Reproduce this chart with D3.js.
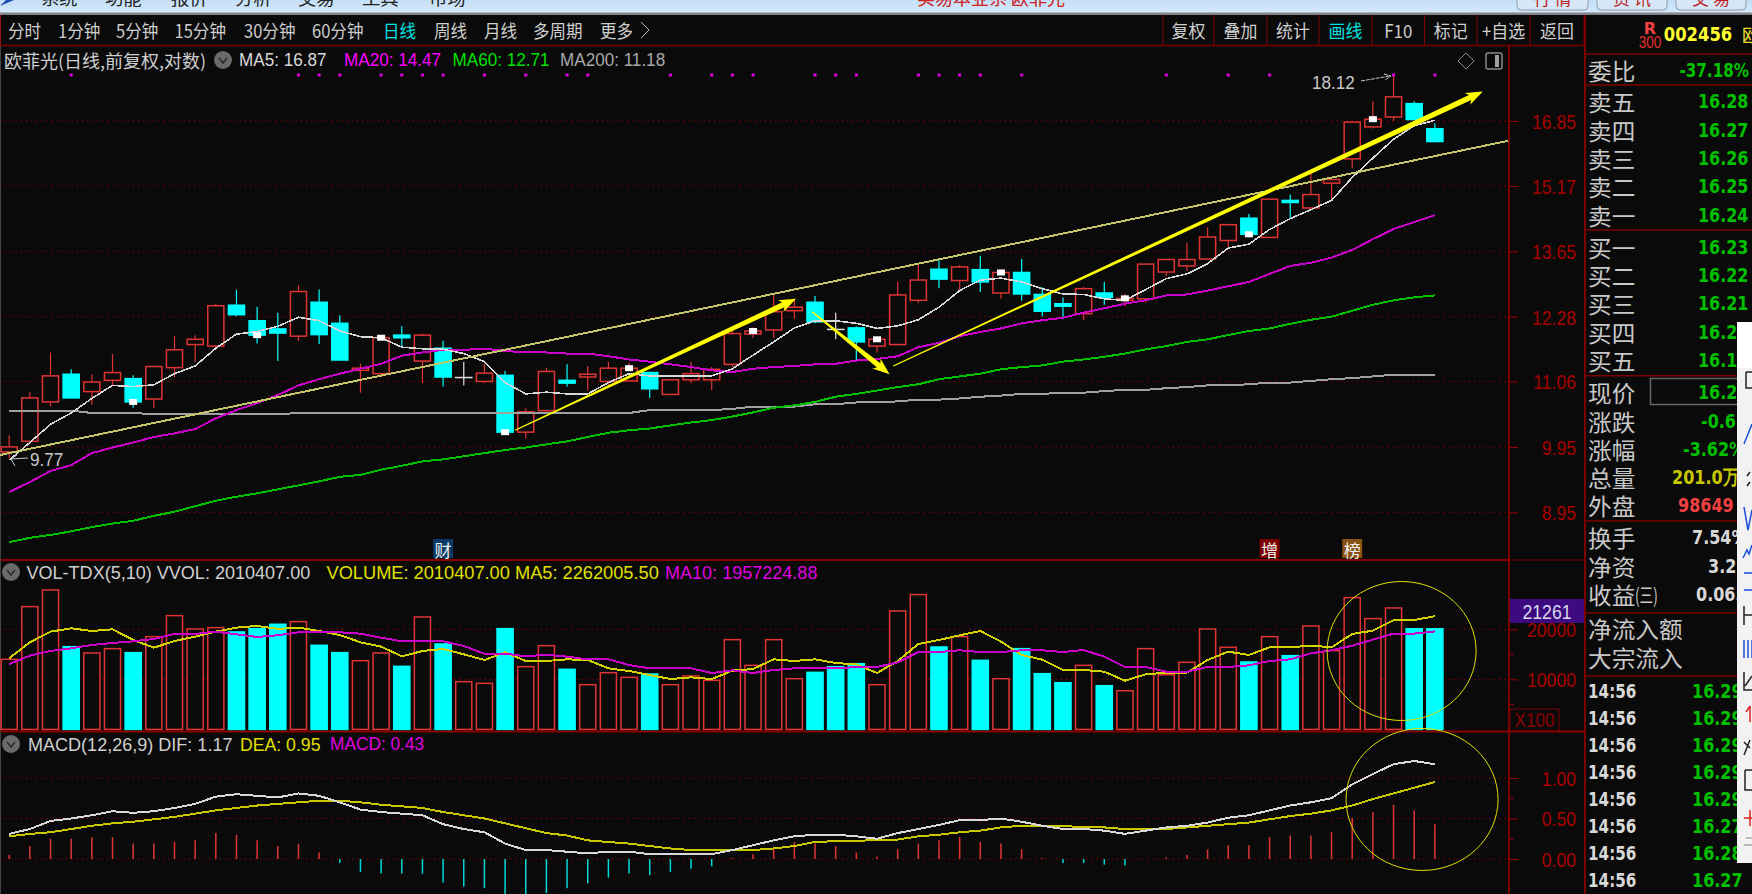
<!DOCTYPE html>
<html>
<head>
<meta charset="utf-8">
<style>
  html, body { margin: 0; padding: 0; background: #0a0a0a; overflow: hidden; }
  svg { display: block; }
</style>
<script src="https://cdn.jsdelivr.net/npm/d3@7"></script>
</head>
<body>
<svg id="chart" width="1752" height="894"></svg>
<script>
// candles
const opens = [9.87,10.04,10.70,11.19,10.88,11.08,11.11,10.75,11.31,11.74,
  11.71,12.51,12.20,12.04,11.90,12.57,12.15,11.26,11.20,11.92,
  11.43,11.67,11.13,11.06,11.17,10.19,10.55,11.08,11.14,11.06,
  11.07,11.22,10.83,11.09,11.09,11.37,11.94,12.02,12.40,12.57,
  12.03,12.06,11.71,11.74,12.61,13.26,13.02,13.25,12.76,13.19,
  12.73,12.54,12.34,12.76,12.61,12.64,13.20,13.33,13.48,13.89,
  14.40,13.96,14.82,14.64,15.24,15.85,16.69,16.96,17.33,16.64];
const closes = [9.95,10.77,11.16,10.77,11.05,11.22,10.70,11.33,11.64,11.84,
  12.50,12.32,11.92,11.96,12.79,11.93,11.45,11.30,11.87,11.87,
  11.92,11.14,11.13,11.21,10.19,10.53,11.24,11.03,11.19,11.30,
  11.30,10.93,11.09,11.20,11.28,11.95,12.00,12.38,12.47,12.18,
  12.03,11.79,11.84,12.72,13.03,13.05,13.31,12.99,13.19,12.74,
  12.39,12.49,12.85,12.67,12.65,13.37,13.47,13.47,13.97,14.25,
  14.03,14.85,14.77,14.96,15.33,16.82,16.90,17.52,16.89,16.30];
const highs = [10.14,10.87,11.59,11.28,11.19,11.56,11.17,11.33,11.90,11.92,
  12.54,12.83,12.48,12.36,12.92,12.83,12.31,11.38,11.92,12.09,
  11.95,11.81,11.42,11.38,11.25,10.59,11.31,11.37,11.34,11.42,
  11.40,11.24,11.09,11.42,11.32,12.01,12.07,12.74,12.64,12.70,
  12.36,12.09,11.89,12.99,13.35,13.46,13.35,13.55,13.26,13.48,
  12.88,12.67,12.88,12.99,12.74,13.37,13.47,13.84,14.19,14.25,
  14.50,14.85,14.96,15.51,15.34,16.83,17.40,18.12,17.40,16.79];
const lows = [9.77,9.99,10.62,10.77,10.65,10.99,10.60,10.60,11.13,11.42,
  11.64,12.29,11.76,11.43,11.81,11.75,11.45,10.86,11.17,11.70,
  11.03,10.97,10.99,11.03,10.17,10.09,10.53,10.97,10.90,10.99,
  11.07,10.77,10.83,11.03,10.91,11.32,11.87,11.86,12.24,12.15,
  11.84,11.43,11.59,11.73,12.55,12.86,12.78,12.78,12.64,12.60,
  12.29,12.23,12.21,12.52,12.49,12.56,13.11,13.22,13.48,13.74,
  13.96,13.96,14.41,14.60,14.85,15.61,16.65,16.85,16.89,16.30];

const ma5 = [9.74,10.02,10.32,10.51,10.76,10.99,10.97,11.00,11.20,11.34,
  11.67,11.94,11.99,12.09,12.27,12.20,12.00,11.89,11.87,11.69,
  11.66,11.65,11.57,11.42,11.04,10.84,10.87,10.84,10.84,11.04,
  11.20,11.16,11.16,11.16,11.16,11.29,11.54,11.79,12.06,12.20,
  12.20,12.15,12.05,12.10,12.22,12.47,12.81,13.03,13.07,12.99,
  12.85,12.74,12.73,12.64,12.61,12.83,13.06,13.16,13.38,13.72,
  13.81,14.14,14.39,14.60,14.82,15.38,15.87,16.36,16.72,16.87];
const ma20 = [9.25,9.40,9.57,9.66,9.85,9.94,10.02,10.11,10.17,10.24,
  10.42,10.56,10.68,10.82,10.99,11.10,11.20,11.29,11.38,11.53,
  11.59,11.64,11.64,11.66,11.62,11.59,11.59,11.57,11.57,11.52,
  11.46,11.42,11.37,11.32,11.26,11.23,11.29,11.32,11.34,11.37,
  11.38,11.44,11.47,11.52,11.69,11.77,11.90,11.98,12.05,12.15,
  12.21,12.26,12.36,12.45,12.54,12.61,12.71,12.73,12.81,12.90,
  12.99,13.16,13.33,13.40,13.51,13.68,13.92,14.15,14.31,14.47];
const ma60 = [8.53,8.59,8.63,8.68,8.74,8.79,8.83,8.90,8.96,9.04,
  9.12,9.18,9.23,9.29,9.35,9.41,9.48,9.51,9.59,9.65,
  9.72,9.75,9.80,9.85,9.90,9.94,9.99,10.04,10.11,10.18,
  10.22,10.25,10.30,10.35,10.39,10.45,10.52,10.60,10.64,10.70,
  10.79,10.84,10.90,10.96,11.01,11.10,11.15,11.20,11.28,11.32,
  11.35,11.42,11.46,11.51,11.57,11.65,11.71,11.79,11.84,11.92,
  12.00,12.05,12.14,12.22,12.28,12.40,12.52,12.61,12.67,12.71];
const ma200 = [10.55,10.55,10.55,10.55,10.51,10.51,10.51,10.49,10.49,10.49,
  10.49,10.49,10.49,10.49,10.51,10.51,10.51,10.51,10.51,10.51,
  10.51,10.51,10.51,10.51,10.51,10.51,10.51,10.51,10.51,10.51,
  10.51,10.56,10.56,10.56,10.56,10.58,10.62,10.62,10.62,10.66,
  10.66,10.69,10.69,10.71,10.74,10.74,10.76,10.79,10.81,10.84,
  10.84,10.86,10.86,10.89,10.91,10.91,10.94,10.96,10.99,10.99,
  11.01,11.04,11.04,11.07,11.10,11.12,11.15,11.18,11.18,11.18];

// volume pane (x100)
const volumes = [14000,24533,27867,16533,15267,16133,15333,18533,22733,20067,
  20333,19467,20133,21000,21533,16800,15333,13733,15267,12600,
  22467,17067,9533,9200,20133,12533,16733,12000,8933,11333,
  10400,11067,8933,10667,9800,17933,12800,17933,10133,11400,
  12533,13133,8933,23667,26933,16467,18533,13800,10133,16133,
  11133,9333,12800,8733,7733,16133,10933,13400,20067,16400,
  13467,18533,14733,20667,15733,26333,22133,24267,20104,20104];
const volMa5 = [14200,17400,19533,20200,19667,20000,17867,16333,17667,18533,
  19533,20333,20667,20067,20333,19667,18867,17400,16533,14600,
  15667,16067,15000,13867,15400,13667,13667,14000,13867,12200,
  11667,10867,10067,10400,10067,11733,12067,14000,13667,14000,
  13267,13000,11267,13667,17067,17867,18800,19667,17533,14867,
  13933,11867,11867,11533,9733,11000,11333,11333,13867,15533,
  14867,16400,16400,16733,16400,19067,19733,21800,21867,22620];
const volMa10 = [13067,14733,15667,16200,16867,17267,17600,18067,19067,19067,
  19533,19000,18467,18800,19400,19400,19400,19133,18333,17600,
  17600,17600,16667,15133,15133,14600,14933,14533,14000,14000,
  12867,12200,12200,12200,11267,11800,11267,11867,12200,12200,
  12200,12467,12467,13400,15467,15467,15800,15467,15467,15800,
  15800,15467,15867,14533,12467,12467,11533,11533,12467,12467,
  12800,13667,14000,15200,15800,16733,17933,19133,19133,19572];
const downDays = [3,6,11,12,13,15,16,19,21,24,27,31,39,40,41,45,47,49,50,51,53,60,62,68,69];

// MACD pane
const dif = [.31,.37,.47,.50,.54,.59,.57,.59,.63,.68,
  .77,.80,.78,.76,.81,.78,.70,.61,.58,.56,
  .54,.43,.37,.33,.19,.11,.11,.09,.07,.09,
  .09,.06,.06,.06,.06,.11,.17,.23,.28,.30,
  .30,.28,.25,.32,.37,.42,.48,.48,.50,.46,
  .41,.37,.37,.35,.31,.35,.39,.41,.45,.51,
  .54,.60,.66,.70,.75,.92,1.05,1.17,1.21,1.17];
const dea = [.28,.31,.33,.37,.41,.44,.46,.49,.52,.56,
  .60,.63,.66,.68,.70,.72,.72,.70,.67,.65,
  .63,.58,.54,.50,.44,.38,.32,.29,.23,.21,
  .19,.16,.13,.11,.11,.11,.11,.13,.16,.21,
  .22,.22,.24,.24,.28,.30,.33,.35,.39,.41,
  .41,.41,.39,.39,.37,.37,.37,.39,.41,.43,
  .45,.49,.53,.56,.60,.66,.74,.81,.88,.95];
const macd = [.05,.16,.25,.25,.27,.27,.19,.19,.21,.23,
  .32,.30,.23,.16,.19,.08,-.05,-.16,-.18,-.18,
  -.18,-.29,-.34,-.36,-.47,-.51,-.42,-.36,-.30,-.23,
  -.18,-.20,-.16,-.12,-.09,.01,.06,.15,.21,.19,
  .16,.08,.03,.12,.19,.23,.27,.21,.19,.12,
  .01,-.05,-.05,-.07,-.08,0,.02,.05,.12,.17,
  .17,.27,.29,.29,.33,.51,.58,.67,.60,.43];

// ticks and markers
const priceTicks = [16.85,15.17,13.65,12.28,11.06,9.95,8.95];
const volTicks = [20000,10000];
const macdTicks = [1,0.5,0];
const dotDays = [3,14,15,16,18,19,20,21,23,25,27,28,32,34,35,36,39,40,41,44,45,46,47,49,56,59,61,67,69];
const squareDays = [6,12,18,24,30,36,42,48,54,60,66];
const newsFlags = [
  { day: 21, text: "财", fill: "#0b3a66" },
  { day: 61, text: "增", fill: "#7d0000" },
  { day: 65, text: "榜", fill: "#8a5212" }
];

// hand drawn lines, [day, price]
const channelLine = [[-0.445,9.82],[72.55,16.32]];
const arrows = [
  [[24.48,10.22],[38.08,12.64]],
  [[38.86,12.38],[42.61,11.19]],
  [[42.79,11.34],[71.32,17.67]]
];

// text of the panels
const periodTabs = [["分时",8],["1分钟",58],["5分钟",116],["15分钟",174.5],["30分钟",244],["60分钟",312],["日线",383],["周线",434],["月线",484],["多周期",533],["更多",600]];
const toolTabs = ["复权","叠加","统计","画线","F10","标记","+自选","返回"];
const toolEdges = [1163,1214,1267,1319,1372,1424.5,1477,1530,1584];
const menuItems = [["系统",41],["功能",105],["报价",171],["分析",235],["交易",298],["工具",362],["市场",429]];
const askRows = [["卖五","16.28",101],["卖四","16.27",130],["卖三","16.26",158],["卖二","16.25",186],["卖一","16.24",215]];
const bidRows = [["买一","16.23",247],["买二","16.22",275],["买三","16.21",303],["买四","16.20",332],["买五","16.19",360]];
const tickRows = [["14:56","16.29",691],["14:56","16.29",718],["14:56","16.29",745],["14:56","16.29",772],["14:56","16.29",799],["14:56","16.27",826],["14:56","16.28",853],["14:56","16.27",880]];

const BG = "#0a0a0a", DARKRED = "#7d0000", AXISRED = "#a80000";
const RED = "#e03434", CYAN = "#00ffff", CJK = "'Noto Sans CJK SC'", LATIN = "'Liberation Sans'", BOLD = "'DejaVu Sans'";

const svg = d3.select("#chart");
svg.append("rect").attr("width", 1752).attr("height", 894).attr("fill", BG);

function label(g, x, y, str, o) {
  o = o || {};
  return g.append("text")
    .attr("transform", "translate(" + x + "," + y + ") scale(" + (o.sx || 1) + ",1)")
    .attr("text-anchor", o.anchor || "start")
    .attr("dominant-baseline", "central")
    .attr("font-family", o.font || CJK)
    .attr("font-size", o.size || 18)
    .attr("font-weight", o.weight || 400)
    .attr("fill", o.color || "#cfcfcf")
    .text(str);
}

function chevron(g, cx, cy) {
  g.append("circle").attr("cx", cx).attr("cy", cy).attr("r", 9).attr("fill", "#6a6a6a");
  g.append("path").attr("d", "M" + (cx - 4) + "," + (cy - 2) + "L" + cx + "," + (cy + 3) + "L" + (cx + 4) + "," + (cy - 2))
    .attr("fill", "none").attr("stroke", "#2a2a2a").attr("stroke-width", 1.5);
}

// scales
const days = d3.range(opens.length);
const x = d3.scaleBand().domain(days).range([-1.13, 1445.2]).paddingInner(0.22).paddingOuter(0.11);
const bw = x.bandwidth();
const xc = d3.scaleLinear().domain([0, 69]).range([x(0) + bw / 2, x(69) + bw / 2]);
const y = d3.scaleLog().domain([8.95, 16.85]).range([512.4, 121]);
const yVol = d3.scaleLinear().domain([0, 20000]).range([729.4, 629.3]);
const yMacd = d3.scaleLinear().domain([0, 1]).range([859, 778]);

// top window strip
const defs = svg.append("defs");
const strip = defs.append("linearGradient").attr("id", "strip").attr("x1", 0).attr("x2", 0).attr("y1", 0).attr("y2", 1);
strip.append("stop").attr("offset", 0).attr("stop-color", "#c4dff7");
strip.append("stop").attr("offset", 1).attr("stop-color", "#d6e8f8");
svg.append("rect").attr("width", 1752).attr("height", 13).attr("fill", "url(#strip)");
svg.append("rect").attr("y", 12.5).attr("width", 1752).attr("height", 2.5).attr("fill", "#808488");
svg.append("path").attr("d", "M0,6L14,0L6,0Z").attr("fill", "#1c4fb0");
menuItems.forEach(m => label(svg, m[1], -3, m[0], { size: 17, anchor: "start", color: "#222", sx: 1.08 }));
label(svg, 917, -3, "实易本业系 欧菲光", { size: 18, color: "#d02020" });
[[1517, 1588, "行 情"], [1597, 1667, "资 讯"], [1676, 1746, "交 易"]].forEach(t => {
  svg.append("rect").attr("x", t[0]).attr("y", -8).attr("width", t[1] - t[0]).attr("height", 18).attr("rx", 4)
    .attr("fill", "#d6e8f8").attr("stroke", "#8a9aa8");
  label(svg, (t[0] + t[1]) / 2, -3, t[2], { size: 17, anchor: "middle", color: "#c02020" });
});

// toolbar
svg.append("line").attr("x1", 0.5).attr("x2", 0.5).attr("y1", 15).attr("y2", 46).attr("stroke", "#a01010");
svg.append("line").attr("x1", 0).attr("x2", 1584).attr("y1", 45.5).attr("y2", 45.5).attr("stroke", DARKRED).attr("stroke-width", 1.5);
periodTabs.forEach(t => label(svg, t[1], 30, t[0], { size: 18, sx: 0.92, color: t[0] === "日线" ? "#00e0e0" : "#cfcfcf" }));
svg.append("path").attr("d", "M641,22L649,30L641,38").attr("fill", "none").attr("stroke", "#bbb");
toolEdges.forEach(e => svg.append("line").attr("x1", e).attr("x2", e).attr("y1", 15).attr("y2", 45).attr("stroke", DARKRED));
toolTabs.forEach((t, i) => label(svg, (toolEdges[i] + toolEdges[i + 1]) / 2, 30, t, {
  size: 18, sx: 0.94, anchor: "middle", color: t === "画线" ? "#00e0e0" : "#cfcfcf"
}));

// main pane header
label(svg, 4, 60, "欧菲光(日线,前复权,对数)", { size: 18 });
chevron(svg, 223, 60);
label(svg, 239, 60, "MA5: 16.87", { font: LATIN, size: 19, sx: 0.9, color: "#d8d8d8" });
label(svg, 344, 60, "MA20: 14.47", { font: LATIN, size: 19, sx: 0.9, color: "#ff00ff" });
label(svg, 452.5, 60, "MA60: 12.71", { font: LATIN, size: 19, sx: 0.9, color: "#00e000" });
label(svg, 560, 60, "MA200: 11.18", { font: LATIN, size: 19, sx: 0.9, color: "#a8a8a8" });

// diamond and pane button
svg.append("path").attr("d", "M1466,53L1474,61L1466,69L1458,61Z").attr("fill", "none").attr("stroke", "#8a8a8a");
svg.append("rect").attr("x", 1486).attr("y", 53).attr("width", 16).attr("height", 16).attr("rx", 2).attr("fill", "none").attr("stroke", "#8a8a8a").attr("stroke-width", 1.5);
svg.append("rect").attr("x", 1495).attr("y", 55).attr("width", 4).attr("height", 12).attr("fill", "#a0a0a0");

// grid
function grid(scale, ticks) {
  svg.append("g").selectAll("line").data(ticks).enter().append("line")
    .attr("x1", 0).attr("x2", 1508)
    .attr("y1", d => scale(d)).attr("y2", d => scale(d))
    .attr("stroke", "#8a0000").attr("stroke-width", 1).attr("stroke-dasharray", "1.5 3.6");
}
grid(y, priceTicks);
grid(yVol, volTicks);
grid(yMacd, macdTicks);

// pane frames
[[0, 1509, 560], [0, 1584, 731.5]].forEach(l => {
  svg.append("line").attr("x1", l[0]).attr("x2", l[1]).attr("y1", l[2]).attr("y2", l[2]).attr("stroke", "#8a0000").attr("stroke-width", 2);
});
svg.append("line").attr("x1", 1509).attr("x2", 1584).attr("y1", 560).attr("y2", 560).attr("stroke", DARKRED);
svg.append("line").attr("x1", 1509).attr("x2", 1509).attr("y1", 46).attr("y2", 894).attr("stroke", DARKRED).attr("stroke-width", 2);
svg.append("line").attr("x1", 1585).attr("x2", 1585).attr("y1", 15).attr("y2", 894).attr("stroke", DARKRED).attr("stroke-width", 2);
svg.append("line").attr("x1", 0.5).attr("x2", 0.5).attr("y1", 46).attr("y2", 894).attr("stroke", "#444");

// right axes
function rightAxis(scale, ticks, fmt) {
  const g = svg.append("g").attr("transform", "translate(1509,0)")
    .call(d3.axisRight(scale).tickValues(ticks).tickFormat(fmt).tickSize(9).tickPadding(0));
  g.select(".domain").remove();
  g.selectAll("line").attr("stroke", "#a00000");
  g.selectAll("text")
    .attr("x", 0).attr("dy", "0.35em")
    .attr("transform", "translate(67,0) scale(0.84,1)")
    .attr("text-anchor", "end")
    .attr("font-family", LATIN).attr("font-size", 21).attr("fill", AXISRED);
  return g;
}
rightAxis(y, priceTicks, d3.format(".2f"));
rightAxis(yVol, volTicks, d3.format("d"));
rightAxis(yMacd, macdTicks, d3.format(".2f"));
[15000, 5000].forEach(v => svg.append("line").attr("x1", 1509).attr("x2", 1514).attr("y1", yVol(v)).attr("y2", yVol(v)).attr("stroke", "#a00000"));
[0.75, 0.25].forEach(v => svg.append("line").attr("x1", 1509).attr("x2", 1514).attr("y1", yMacd(v)).attr("y2", yMacd(v)).attr("stroke", "#a00000"));

// purple value box and X100
svg.append("rect").attr("x", 1510).attr("y", 599).attr("width", 74).attr("height", 24).attr("fill", "#3d0a80");
label(svg, 1547, 611.5, "21261", { font: LATIN, size: 21, sx: 0.84, anchor: "middle", color: "#d8d8ee" });
svg.append("rect").attr("x", 1510).attr("y", 709).attr("width", 49).attr("height", 22).attr("fill", "none").attr("stroke", DARKRED);
label(svg, 1534.5, 720, "X100", { font: LATIN, size: 20, sx: 0.86, anchor: "middle", color: "#8a0000" });

// magenta dots
svg.append("g").selectAll("rect").data(dotDays).enter().append("rect")
  .attr("x", d => xc(d) - 1.5).attr("y", 73.5).attr("width", 3).attr("height", 3).attr("fill", "#e000e0");

// candles
const candles = svg.append("g").selectAll("g").data(days).enter().append("g");
function candleColor(i) {
  if (opens[i] === closes[i]) return "#e0e0e0";
  return closes[i] > opens[i] ? RED : CYAN;
}
candles.append("line")
  .attr("x1", d => xc(d)).attr("x2", d => xc(d))
  .attr("y1", d => y(highs[d])).attr("y2", d => y(lows[d]))
  .attr("stroke", candleColor).attr("stroke-width", 1.2);
candles.append("rect")
  .attr("x", d => x(d)).attr("width", bw)
  .attr("y", d => y(Math.max(opens[d], closes[d])))
  .attr("height", d => Math.max(0.01, y(Math.min(opens[d], closes[d])) - y(Math.max(opens[d], closes[d]))))
  .attr("fill", d => closes[d] > opens[d] ? BG : candleColor(d))
  .attr("stroke", candleColor).attr("stroke-width", 1.5);

// MA lines
const priceLine = d3.line().x((d, i) => xc(i)).y(d => y(d));
function drawLine(values, gen, color, w) {
  svg.append("path").datum(values).attr("fill", "none").attr("stroke", color)
    .attr("stroke-width", w || 2).attr("shape-rendering", "crispEdges").attr("d", gen);
}
drawLine(ma200, priceLine, "#a0a0a0");
drawLine(ma60, priceLine, "#00c000");
drawLine(ma20, priceLine, "#cc00cc");
drawLine(ma5, priceLine, "#d8d8d8", 1.6);

// white close squares
svg.append("g").selectAll("rect").data(squareDays).enter().append("rect")
  .attr("x", d => xc(d) - 4).attr("y", d => y(closes[d]) - 3).attr("width", 8).attr("height", 6).attr("fill", "#fff");

// channel line
svg.append("line")
  .attr("x1", xc(channelLine[0][0])).attr("y1", y(channelLine[0][1]))
  .attr("x2", xc(channelLine[1][0])).attr("y2", y(channelLine[1][1]))
  .attr("stroke", "#c4c468").attr("stroke-width", 2).attr("shape-rendering", "crispEdges");

// tapered yellow arrows
function arrow(a) {
  const x0 = xc(a[0][0]), y0 = y(a[0][1]), x1 = xc(a[1][0]), y1 = y(a[1][1]);
  const len = Math.hypot(x1 - x0, y1 - y0), ux = (x1 - x0) / len, uy = (y1 - y0) / len, nx = -uy, ny = ux;
  const hx = x1 - ux * 14, hy = y1 - uy * 14;
  const pts = [
    [x0 + nx * 0.6, y0 + ny * 0.6], [hx + nx * 2.7, hy + ny * 2.7], [hx - ux * 3 + nx * 6.5, hy - uy * 3 + ny * 6.5],
    [x1, y1],
    [hx - ux * 3 - nx * 6.5, hy - uy * 3 - ny * 6.5], [hx - nx * 2.7, hy - ny * 2.7], [x0 - nx * 0.6, y0 - ny * 0.6]
  ];
  svg.append("polygon").attr("points", pts.map(p => p.join(",")).join(" ")).attr("fill", "#ffff00");
}
arrows.forEach(arrow);

// extreme price labels
label(svg, 1312, 83, "18.12", { font: LATIN, size: 19, sx: 0.9, color: "#c8c8c8" });
svg.append("path").attr("d", "M1361,81L1390,76M1384,74L1391,76L1385,80").attr("fill", "none").attr("stroke", "#c8c8c8").attr("stroke-dasharray", "4 1");
label(svg, 30, 460, "9.77", { font: LATIN, size: 19, sx: 0.9, color: "#c8c8c8" });
svg.append("path").attr("d", "M28,458L11,459M17,455L11,459L15,466").attr("fill", "none").attr("stroke", "#c8c8c8");

// news flags
const flags = svg.append("g").selectAll("g").data(newsFlags).enter().append("g");
flags.append("rect").attr("x", d => xc(d.day) - 10).attr("y", 539).attr("width", 20).attr("height", 19).attr("fill", d => d.fill);
flags.append("text").attr("x", d => xc(d.day)).attr("y", 549).attr("text-anchor", "middle").attr("dominant-baseline", "central")
  .attr("font-family", CJK).attr("font-size", 17).attr("fill", "#f0f0f0").text(d => d.text);

// volume pane
chevron(svg, 11, 572);
label(svg, 26.5, 572, "VOL-TDX(5,10) VVOL: 2010407.00", { font: LATIN, size: 19, sx: 0.95, color: "#cfcfcf" });
label(svg, 326.5, 572, "VOLUME: 2010407.00 MA5: 2262005.50", { font: LATIN, size: 19, sx: 0.96, color: "#e0e000" });
label(svg, 665, 572, "MA10: 1957224.88", { font: LATIN, size: 19, sx: 0.95, color: "#e000e0" });

const isDown = d => downDays.includes(d);
svg.append("g").selectAll("rect").data(days).enter().append("rect")
  .attr("x", d => x(d)).attr("width", bw)
  .attr("y", d => yVol(volumes[d]))
  .attr("height", d => yVol(0) - yVol(volumes[d]))
  .attr("fill", d => isDown(d) ? CYAN : BG)
  .attr("stroke", d => isDown(d) ? CYAN : RED)
  .attr("stroke-width", 1.5);
const volLine = d3.line().x((d, i) => xc(i)).y(d => yVol(d));
drawLine(volMa5, volLine, "#d2d200");
drawLine(volMa10, volLine, "#cc00cc");

// MACD pane
chevron(svg, 11, 744);
label(svg, 28, 744, "MACD(12,26,9) DIF: 1.17", { font: LATIN, size: 19, sx: 0.95, color: "#cfcfcf" });
label(svg, 240, 744, "DEA: 0.95", { font: LATIN, size: 19, sx: 0.93, color: "#e0e000" });
label(svg, 330, 744, "MACD: 0.43", { font: LATIN, size: 19, sx: 0.91, color: "#e000e0" });

svg.append("g").selectAll("line").data(days).enter().append("line")
  .attr("x1", d => xc(d)).attr("x2", d => xc(d))
  .attr("y1", yMacd(0)).attr("y2", d => yMacd(macd[d]))
  .attr("stroke", d => macd[d] >= 0 ? RED : "#00d8d8").attr("stroke-width", 1.5);
const macdLine = d3.line().x((d, i) => xc(i)).y(d => yMacd(d));
drawLine(dea, macdLine, "#c8c800");
drawLine(dif, macdLine, "#d8d8d8");

// hand drawn circles
[[67.39, yVol(15664), 74.5, 69.5], [68.38, yMacd(0.735), 76, 71]].forEach(c => {
  svg.append("ellipse").attr("cx", xc(c[0])).attr("cy", c[1]).attr("rx", c[2]).attr("ry", c[3])
    .attr("fill", "none").attr("stroke", "#e0e000").attr("stroke-width", 1);
});

// quote panel
const PRICE = { font: BOLD, weight: 700, size: 20, sx: 0.8, anchor: "end", color: "#00c000" };
const NAME = { size: 23, color: "#c8c8c8", sx: 1.03 };
[54, 85, 230, 375.7, 521, 613, 676].forEach(v => svg.append("line").attr("x1", 1585).attr("x2", 1752).attr("y1", v).attr("y2", v).attr("stroke", DARKRED).attr("stroke-width", 1.5));

label(svg, 1650, 28, "R", { font: BOLD, weight: 700, size: 16, anchor: "middle", color: "#f04040" });
label(svg, 1650, 43, "300", { font: LATIN, size: 16, sx: 0.85, anchor: "middle", color: "#e03030" });
label(svg, 1698, 34, "002456", { font: BOLD, weight: 700, size: 20, sx: 0.82, anchor: "middle", color: "#ffff30" });
label(svg, 1742, 34, "欧菲光", { size: 18, color: "#e8e030" });
label(svg, 1588, 70, "委比", NAME);
label(svg, 1749, 70, "-37.18%", Object.assign({}, PRICE, { sx: 0.76 }));
askRows.concat(bidRows).forEach(r => {
  label(svg, 1588, r[2], r[0], NAME);
  label(svg, 1748.5, r[2], r[1], PRICE);
});
svg.append("rect").attr("x", 1650.5).attr("y", 378.5).attr("width", 100).attr("height", 26).attr("fill", "none").attr("stroke", "#666").attr("stroke-width", 1.5);
label(svg, 1588, 392, "现价", NAME);
label(svg, 1748.5, 392, "16.27", PRICE);
label(svg, 1588, 421, "涨跌", NAME);
label(svg, 1701, 421, "-0.61", Object.assign({}, PRICE, { anchor: "start" }));
label(svg, 1588, 449, "涨幅", NAME);
label(svg, 1683, 449, "-3.62%", Object.assign({}, PRICE, { anchor: "start" }));
label(svg, 1588, 477, "总量", NAME);
label(svg, 1672, 477, "201.0万", Object.assign({}, PRICE, { anchor: "start", color: "#c8c800" }));
label(svg, 1588, 505, "外盘", NAME);
label(svg, 1678, 505, "98649", Object.assign({}, PRICE, { anchor: "start", color: "#f04040" }));
label(svg, 1588, 537, "换手", NAME);
label(svg, 1692, 537, "7.54%", Object.assign({}, PRICE, { anchor: "start", color: "#d8d8d8" }));
label(svg, 1588, 566, "净资", NAME);
label(svg, 1708, 566, "3.21", Object.assign({}, PRICE, { anchor: "start", color: "#d8d8d8" }));
label(svg, 1588, 594, "收益", NAME);
label(svg, 1635, 594, "(三)", { size: 20, sx: 0.68, color: "#c8c8c8" });
label(svg, 1696, 594, "0.065", Object.assign({}, PRICE, { anchor: "start", color: "#d8d8d8" }));
label(svg, 1588, 628, "净流入额", NAME);
label(svg, 1588, 657, "大宗流入", NAME);
tickRows.forEach(r => {
  label(svg, 1588, r[2], r[0], { font: BOLD, weight: 700, size: 19, sx: 0.8, color: "#d8d8d8" });
  label(svg, 1692, r[2], r[1], Object.assign({}, PRICE, { anchor: "start" }));
});

// window overlapping the right edge
svg.append("rect").attr("x", 1737).attr("y", 322).attr("width", 15).attr("height", 46).attr("fill", "#ffffff");
svg.append("rect").attr("x", 1737).attr("y", 368).attr("width", 15).attr("height", 495).attr("fill", "#f2f2f2");
const icons = [
  ["M1746,372V388H1752M1746,372H1752", "#222"],
  ["M1744,444L1752,424", "#1a4fd8"],
  ["M1747,476l3,-4M1747,486l3,-4", "#222"],
  ["M1744,507L1748,530L1752,510", "#1a4fd8"],
  ["M1743,558L1747,550L1749,554L1752,545", "#1a4fd8"],
  ["M1744,573H1752M1744,590H1752", "#1a4fd8"],
  ["M1744,606V625M1744,615H1752", "#222"],
  ["M1744,640V658M1748,640V658M1752,640V658", "#1a4fd8"],
  ["M1744,672V690H1752M1745,686L1752,676", "#222"],
  ["M1750,706V722M1746,712L1750,706", "#e02020"],
  ["M1744,755L1750,740M1744,742L1750,748", "#222"],
  ["M1745,770V790H1752M1745,770H1752", "#222"],
  ["M1744,818H1752M1750,810V826", "#e02020"],
  ["M1744,845H1752M1746,838H1752", "#aaa"]
];
icons.forEach(c => svg.append("path").attr("d", c[0]).attr("fill", "none").attr("stroke", c[1]).attr("stroke-width", 1.5));
</script>
</body>
</html>
